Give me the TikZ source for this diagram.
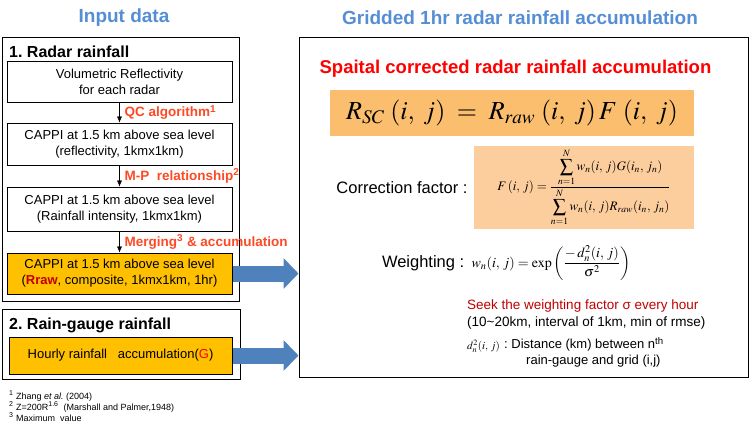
\documentclass[tikz,border=0pt]{standalone}
\usepackage{mathptmx}
\usepackage[no-math]{fontspec}
\setmainfont{Liberation Sans}
\usepackage{amsmath}
\usetikzlibrary{arrows.meta, positioning}

\definecolor{titleblue}{RGB}{85,142,213}
\definecolor{arrowblue}{RGB}{79,129,189}
\definecolor{labelred}{RGB}{255,72,36}
\definecolor{boxorange}{RGB}{255,192,0}
\definecolor{formorange}{RGB}{250,190,110}
\definecolor{formpeach}{RGB}{252,206,158}
\definecolor{darkred}{RGB}{192,0,0}

\newcommand{\fs}[2]{\fontsize{#1}{#2}\selectfont}

\begin{document}
\frenchspacing
\begin{tikzpicture}[x=1pt, y=-1pt, >={Latex[length=6pt,width=5pt]},
  stepbox/.style={draw, line width=1pt, minimum width=225pt, align=center, inner sep=0pt, font=\fs{13}{16}},
  framebox/.style={draw, line width=1pt, inner sep=0pt},
  headtxt/.style={anchor=west, inner sep=0pt, font=\fs{16}{19}\bfseries},
  titletxt/.style={text=titleblue, inner sep=0pt, font=\fs{19}{22}\bfseries},
  lbl/.style={anchor=west, xshift=5pt, inner sep=0pt, text=labelred, font=\fs{13.5}{16}\bfseries},
  bigarrow/.style={arrowblue, line width=16pt, -{Triangle[length=15pt,width=30pt]}}]
  \useasboundingbox (0,0) rectangle (751,429);
  % titles
  \node[titletxt] (inputtitle) at (124,18) {Input data};
  \node[titletxt] (gridtitle) at (520,18) {Gridded 1hr radar rainfall accumulation};
  % 1. radar rainfall
  \node[framebox, minimum width=237pt, minimum height=264pt] (radarbox) at (120.5,169) {};
  \node[headtxt] (radarhead) at (9,52) {1. Radar rainfall};
  \node[stepbox, minimum height=41pt] (vol) at (119.5,81.5) {Volumetric Reflectivity\\for each radar};
  \node[stepbox, minimum height=42pt] (cappi1) at (119.5,144) {CAPPI at 1.5 km above sea level\\(reflectivity, 1kmx1km)};
  \node[stepbox, minimum height=44pt] (cappi2) at (119.5,209) {CAPPI at 1.5 km above sea level\\(Rainfall intensity, 1kmx1km)};
  \node[stepbox, minimum height=41pt, fill=boxorange] (raw) at (119.5,273.5) {CAPPI at 1.5 km above sea level\\({\color{darkred}\bfseries Rraw}, composite, 1kmx1km, 1hr)};
  \draw[->] (vol) -- node[lbl] {QC algorithm\textsuperscript{1}} (cappi1);
  \draw[->] (cappi1) -- node[lbl] {M-P\ \ relationship\textsuperscript{2}} (cappi2);
  \draw[->] (cappi2) -- node[lbl] {Merging\textsuperscript{3} \& accumulation} (raw);
  % 2. rain-gauge rainfall
  \node[framebox, minimum width=238pt, minimum height=70pt] (gaugebox) at (121,344) {};
  \node[headtxt] (gaugehead) at (9,325) {2. Rain-gauge rainfall};
  \node[stepbox, minimum width=223pt, minimum height=37pt, fill=boxorange] (gauge) at (120.5,355.5) {Hourly rainfall\ \ \ accumulation({\color{red}G})};
  % footnotes
  \node[anchor=west, align=left, inner sep=0pt, font=\fs{9}{11}] (notes) at (9,406)
    {\textsuperscript{1} Zhang \textit{et al.} (2004)\\
     \textsuperscript{2} Z=200R\textsuperscript{1.6}\ \ (Marshall and Palmer,1948)\\
     \textsuperscript{3} Maximum\ \ value};
  % gridded accumulation
  \node[framebox, minimum width=449pt, minimum height=340pt] (gridbox) at (523.5,207) {};
  \node[inner sep=0pt, text=red, font=\fs{18.5}{22}\bfseries] (sctitle) at (515.5,69) {Spaital corrected radar rainfall accumulation};
  \node[fill=formorange, minimum width=364pt, minimum height=46pt, inner sep=0pt] (rsc) at (512,113)
    {\fs{26}{28}$R_{SC}\;(i,\;j)\;=\;R_{raw}\;(i,\;j)\,F\;(i,\;j)$};
  \node[fill=formpeach, minimum width=220pt, minimum height=83pt, inner sep=0pt] (corr) at (584,187.5)
    {\fs{13}{15}$\displaystyle F\,(i,\,j) = \frac{\displaystyle\sum_{n=1}^{N} w_n(i,\,j)G(i_n,\,j_n)}{\displaystyle\sum_{n=1}^{N} w_n(i,\,j)R_{raw}(i_n,\,j_n)}$};
  \node[left=6pt of corr, inner sep=0pt, font=\fs{16.5}{19}] (corrlbl) {Correction factor :};
  \node[inner sep=0pt, font=\fs{14}{16}] (wform) at (551,263)
    {$\displaystyle w_n(i,\,j) = \exp\left(\frac{-\,d_n^2(i,\,j)}{\sigma^2}\right)$};
  \node[left=7pt of wform, inner sep=0pt, font=\fs{16.5}{19}] (wlbl) {Weighting :};
  \node[anchor=west, align=left, inner sep=0pt, font=\fs{13.5}{17}] (seek) at (467,314)
    {{\color{darkred}Seek the weighting factor σ every hour}\\(10\textasciitilde20km, interval of 1km, min of rmse)};
  \node[anchor=west, inner sep=0pt, font=\fs{11}{13}] (dform) at (467,346) {$d_n^2(i,\,j)$};
  \node[anchor=north west, align=left, inner sep=0pt, font=\fs{13}{16}] (dtxt) at (504,337)
    {: Distance (km) between n\textsuperscript{th}\\\hspace*{22pt}rain-gauge and grid (i,j)};
  % flow to the gridded field
  \draw[bigarrow] (raw.east) -- (raw.east -| gridbox.west);
  \draw[bigarrow] (gauge.east) -- (gauge.east -| gridbox.west);
\end{tikzpicture}
\end{document}
